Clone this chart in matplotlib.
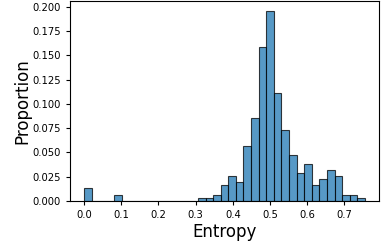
import numpy as np
from matplotlib import pyplot as plt

# histogram of entropy values, 37 bins from 0.0 to 0.755
bin_start = 0.0
bin_stop = 0.755
n_bins = 37
proportion = [0.0132, 0, 0, 0, 0.0066, 0, 0, 0, 0, 0, 0, 0, 0, 0, 0,
              0.0033, 0.0033, 0.0066, 0.0165, 0.0257, 0.0198, 0.0561,
              0.0858, 0.1584, 0.1960, 0.1109, 0.0726, 0.0475, 0.0290,
              0.0380, 0.0165, 0.0231, 0.0323, 0.0257, 0.0066, 0.0066,
              0.0033]

edges = np.linspace(bin_start, bin_stop, n_bins + 1)
width = edges[1] - edges[0]

fig = plt.figure(figsize=(3.86, 2.44), dpi=100)
ax = fig.add_axes([70 / 386, 43 / 244, 309 / 386, 200 / 244])
ax.bar(edges[:-1], proportion, width=width, align='edge',
       color='#1f77b4', alpha=0.75, edgecolor='black', linewidth=0.8)

ax.set_xticks([0.0, 0.1, 0.2, 0.3, 0.4, 0.5, 0.6, 0.7])
ax.set_yticks(np.arange(0, 0.201, 0.025))
ax.tick_params(labelsize=7.2, length=3)
ax.set_xlabel('Entropy', fontsize=12, labelpad=2)
ax.set_ylabel('Proportion', fontsize=12, labelpad=1)

fig.savefig('out.png', dpi=100)
